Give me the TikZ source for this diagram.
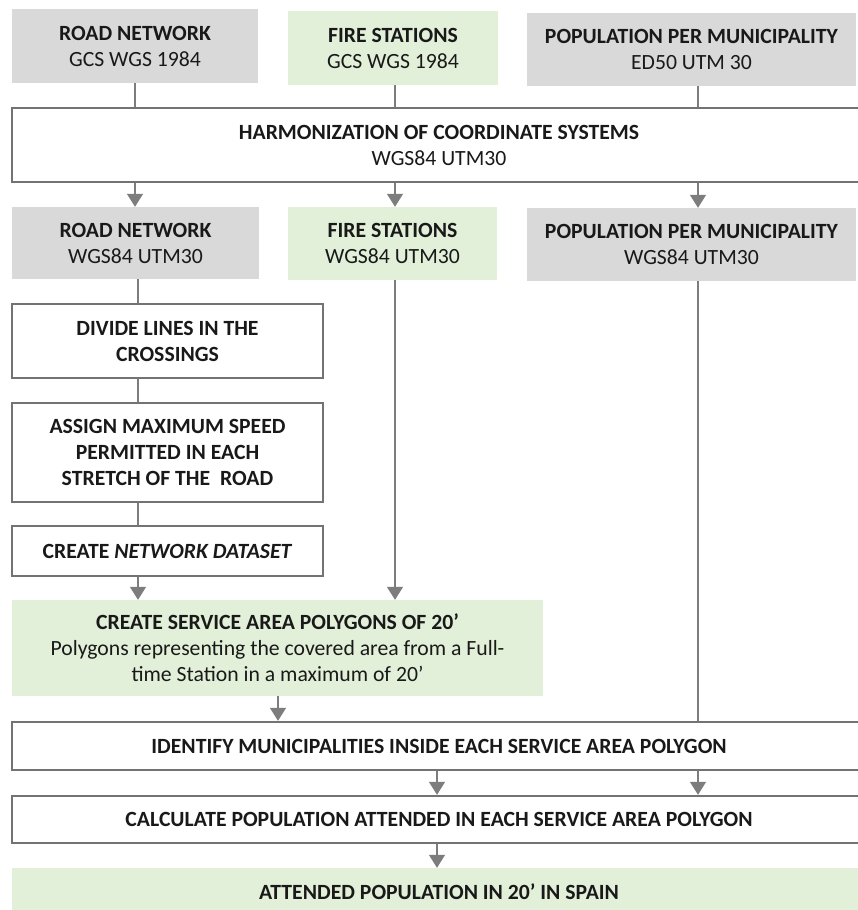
\documentclass[tikz,border=0pt]{standalone}
\usepackage{fontspec}
\setmainfont{Carlito}
\usetikzlibrary{arrows.meta}
\definecolor{boxgray}{RGB}{217,217,217}
\definecolor{boxgreen}{RGB}{226,240,217}
\definecolor{bordergray}{RGB}{115,115,115}
\definecolor{linegray}{RGB}{125,125,125}
\definecolor{txt}{RGB}{25,25,25}
\begin{document}
\begin{tikzpicture}[x=1pt,y=-1pt,
  base/.style={rectangle, inner sep=0pt, align=center, text=txt,
    font=\fontsize{21.7}{26}\selectfont},
  graybox/.style={base, fill=boxgray},
  greenbox/.style={base, fill=boxgreen},
  whitebox/.style={base, fill=white, draw=bordergray, line width=2.4pt},
  ln/.style={draw=linegray, line width=1.4pt},
  arr/.style={ln, -{Triangle[width=16pt,length=13pt]}}
]
\useasboundingbox (0,0) rectangle (857,910);
\fill[white] (0,0) rectangle (857,910);

% top row
\node[graybox, minimum width=246, minimum height=74] (rn1) at (135,46)
  {\textbf{ROAD NETWORK}\\GCS WGS 1984};
\node[greenbox, minimum width=210, minimum height=74] (fs1) at (393,48)
  {\textbf{FIRE STATIONS}\\GCS WGS 1984};
\node[graybox, minimum width=329, minimum height=73] (pp1) at (691.5,49.5)
  {\textbf{POPULATION PER MUNICIPALITY}\\ED50 UTM 30};

\node[whitebox, minimum width=854, minimum height=74] (harm) at (439,145)
  {\textbf{HARMONIZATION OF COORDINATE SYSTEMS}\\WGS84 UTM30};

% second row
\node[graybox, minimum width=247, minimum height=72] (rn2) at (135.5,243)
  {\textbf{ROAD NETWORK}\\WGS84 UTM30};
\node[greenbox, minimum width=209, minimum height=73] (fs2) at (392.5,243.5)
  {\textbf{FIRE STATIONS}\\WGS84 UTM30};
\node[graybox, minimum width=329, minimum height=73] (pp2) at (691.5,244.5)
  {\textbf{POPULATION PER MUNICIPALITY}\\WGS84 UTM30};

% road chain
\node[whitebox, minimum width=311, minimum height=74] (div) at (167.5,341)
  {\textbf{DIVIDE LINES IN THE}\\\textbf{CROSSINGS}};
\node[whitebox, minimum width=311, minimum height=99] (asg) at (167.5,452.5)
  {\textbf{ASSIGN MAXIMUM SPEED}\\\textbf{PERMITTED IN EACH}\\\textbf{STRETCH OF THE\ \ ROAD}};
\node[whitebox, minimum width=311, minimum height=50] (cnd) at (167.5,551)
  {\textbf{CREATE \textit{NETWORK DATASET}}};

\node[greenbox, minimum width=531, minimum height=96] (csa) at (277.5,648)
  {\textbf{CREATE SERVICE AREA POLYGONS OF 20’}\\Polygons representing the covered area from a Full-\\time Station in a maximum of 20’};

\node[whitebox, minimum width=854, minimum height=48] (ident) at (439,746)
  {\textbf{IDENTIFY MUNICIPALITIES INSIDE EACH SERVICE AREA POLYGON}};
\node[whitebox, minimum width=854, minimum height=47] (calc) at (439,819.5)
  {\textbf{CALCULATE POPULATION ATTENDED IN EACH SERVICE AREA POLYGON}};
\node[greenbox, minimum width=854, minimum height=48] (att) at (439,892)
  {\textbf{ATTENDED POPULATION IN 20’ IN SPAIN}};

% column coordinates
\coordinate (cx1) at (135,0);
\coordinate (cx2) at (395,0);
\coordinate (cx3) at (698,0);
\coordinate (cr) at (138,0);
\coordinate (ca) at (278,0);
\coordinate (cb) at (437,0);

% connectors
\draw[ln] (rn1.south -| cx1) -- (harm.north -| cx1);
\draw[ln] (fs1.south -| cx2) -- (harm.north -| cx2);
\draw[ln] (pp1.south -| cx3) -- (harm.north -| cx3);

\draw[arr] (harm.south -| cx1) -- (rn2.north -| cx1);
\draw[arr] (harm.south -| cx2) -- (fs2.north -| cx2);
\draw[arr] (harm.south -| cx3) -- (pp2.north -| cx3);

\draw[ln] (rn2.south -| cr) -- (div.north -| cr);
\draw[ln] (div.south -| cr) -- (asg.north -| cr);
\draw[ln] (asg.south -| cr) -- (cnd.north -| cr);
\draw[arr] (cnd.south -| cr) -- (csa.north -| cr);

\draw[arr] (fs2.south -| cx2) -- (csa.north -| cx2);
\draw[ln] (pp2.south -| cx3) -- (ident.north -| cx3);

\draw[arr] (csa.south -| ca) -- (ident.north -| ca);
\draw[arr] (ident.south -| cb) -- (calc.north -| cb);
\draw[arr] (ident.south -| cx3) -- (calc.north -| cx3);
\draw[arr] (calc.south -| cb) -- (att.north -| cb);
\end{tikzpicture}
\end{document}
